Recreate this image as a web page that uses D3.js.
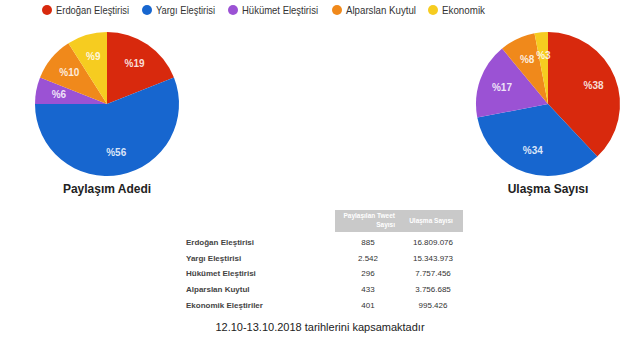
<!DOCTYPE html>
<html lang="tr">
<head>
  <meta charset="UTF-8">
  <title>Paylaşım Adedi / Ulaşma Sayısı</title>
  <style>
    body { margin: 0; background: #fff; overflow: hidden; }
    svg { display: block; font-family: "Liberation Sans", Arial, sans-serif; }
  </style>
</head>
<body>
  <svg width="640" height="339"></svg>

  <script src="https://d3js.org/d3.v7.min.js"></script>
  <script>
    const categories = ["Erdoğan Eleştirisi", "Yargı Eleştirisi", "Hükümet Eleştirisi", "Alparslan Kuytul", "Ekonomik"];
    const sharePct = [19, 56, 6, 10, 9];
    const reachPct = [38, 34, 17, 8, 3];
    const colors = ["#d8290d", "#1766cf", "#9b52d4", "#f0891b", "#f6cc20"];

    const tableRows = ["Erdoğan Eleştirisi", "Yargı Eleştirisi", "Hükümet Eleştirisi", "Alparslan Kuytul", "Ekonomik Eleştiriler"];
    const tweetCounts = ["885", "2.542", "296", "433", "401"];
    const reachCounts = ["16.809.076", "15.343.973", "7.757.456", "3.756.685", "995.426"];
    const headers = [["Paylaşılan Tweet", "Sayısı"], ["Ulaşma Sayısı"]];
    const footnote = "12.10-13.10.2018 tarihlerini kapsamaktadır";

    const svg = d3.select("svg");
    const color = d3.scaleOrdinal().domain(categories).range(colors);

    // legend
    const legendX = [47, 147, 233, 337, 433];
    const legend = svg.append("g").selectAll("g")
      .data(categories)
      .join("g")
      .attr("transform", (d, i) => `translate(${legendX[i]},10)`);
    legend.append("circle").attr("r", 5).attr("fill", d => color(d));
    legend.append("text")
      .attr("x", 9).attr("dy", "0.35em")
      .attr("font-size", 11.5).attr("fill", "#333")
      .attr("textLength", (d, i) => [73, 59, 76, 70, 43][i])
      .attr("lengthAdjust", "spacingAndGlyphs")
      .text(d => d);

    // pies
    const pie = d3.pie().sort(null).value(d => d.v);
    const radius = 72;
    const arc = d3.arc().innerRadius(0).outerRadius(radius);
    const labelArc = d3.arc().innerRadius(radius * 0.68).outerRadius(radius * 0.68);

    function drawPie(values, cx, cy, title) {
      const g = svg.append("g").attr("transform", `translate(${cx},${cy})`);
      const data = pie(values.map((v, i) => ({ k: categories[i], v })));
      g.selectAll("path").data(data).join("path")
        .attr("d", arc)
        .attr("fill", d => color(d.data.k));
      g.selectAll("text.lbl").data(data).join("text")
        .attr("class", "lbl")
        .attr("transform", d => `translate(${labelArc.centroid(d)})`)
        .attr("text-anchor", "middle").attr("dy", "0.35em")
        .attr("font-size", 10).attr("font-weight", "bold")
        .attr("fill", "#fff").attr("fill-opacity", 0.85)
        .text(d => "%" + d.data.v);
      g.append("text")
        .attr("y", 89).attr("text-anchor", "middle")
        .attr("font-size", 12).attr("font-weight", "bold").attr("fill", "#222")
        .text(title);
    }
    drawPie(sharePct, 107, 104, "Paylaşım Adedi");
    drawPie(reachPct, 548, 104, "Ulaşma Sayısı");

    // table
    const t = svg.append("g").attr("font-size", 8).attr("fill", "#333");
    const col = d3.scaleBand().domain([0, 1]).range([335, 463]);
    t.selectAll("rect").data(headers).join("rect")
      .attr("x", (d, i) => col(i)).attr("y", 210)
      .attr("width", col.bandwidth()).attr("height", 22)
      .attr("fill", "#c9c9c9");
    headers.forEach((h, i) => {
      h.forEach((line, j) => {
        t.append("text")
          .attr("x", i === 0 ? col(i) + col.bandwidth() - 4 : col(i) + col.bandwidth() / 2)
          .attr("y", h.length === 1 ? 223 : 218 + j * 9)
          .attr("text-anchor", i === 0 ? "end" : "middle")
          .attr("font-size", 6.5).attr("font-weight", "bold").attr("fill", "#fff")
          .text(line);
      });
    });
    const rowY = d3.scalePoint().domain(d3.range(tableRows.length)).range([242, 305]);
    tableRows.forEach((r, i) => {
      const y = rowY(i);
      t.append("text").attr("x", 186).attr("y", y).attr("dy", "0.35em")
        .attr("font-weight", "bold").attr("fill", "#444").text(r);
      t.append("text").attr("x", col(0) + col.bandwidth() / 2 + 1).attr("y", y).attr("dy", "0.35em")
        .attr("text-anchor", "middle").text(tweetCounts[i]);
      t.append("text").attr("x", col(1) + col.bandwidth() / 2 + 2).attr("y", y).attr("dy", "0.35em")
        .attr("text-anchor", "middle").text(reachCounts[i]);
    });

    svg.append("text")
      .attr("x", 320).attr("y", 327).attr("dy", "0.35em")
      .attr("text-anchor", "middle").attr("font-size", 11).attr("fill", "#222")
      .text(footnote);
  </script>
</body>
</html>
